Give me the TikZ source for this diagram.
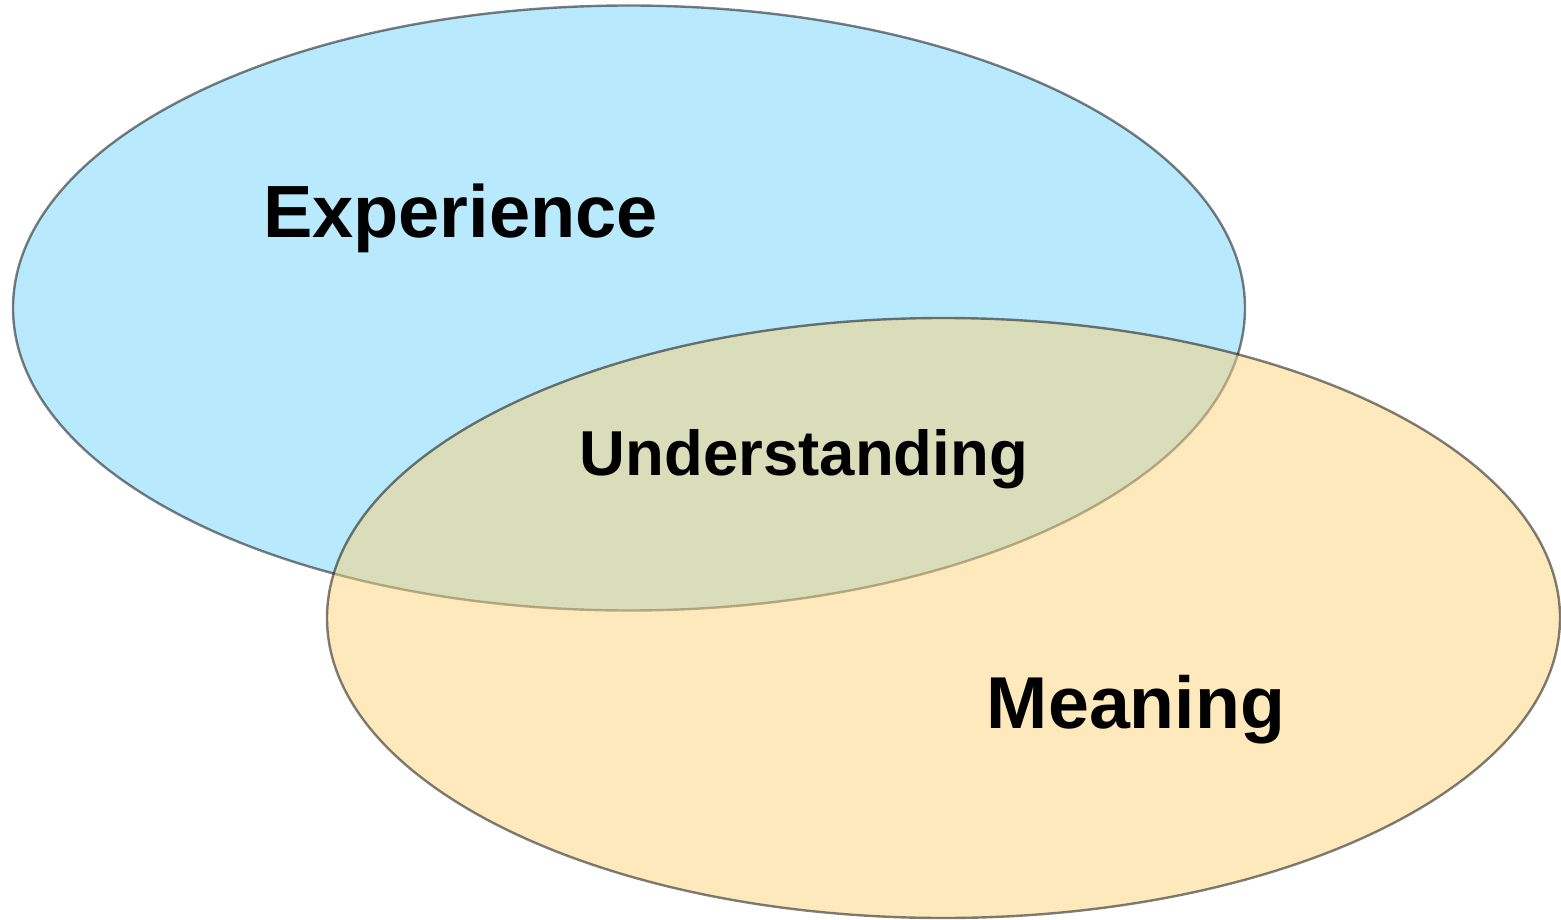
\documentclass[tikz,border=0pt]{standalone}
\usepackage{fontspec}
\setmainfont{Liberation Sans}
\definecolor{blueF}{RGB}{185,233,252}
\definecolor{yelF}{RGB}{251,211,121}
\begin{document}
\begin{tikzpicture}[x=1pt,y=-1pt,
  venn/.style={draw=black,draw opacity=0.5,line width=2.4pt},
  lbl/.style={inner sep=0pt,anchor=base,font=\bfseries}]
\useasboundingbox (0,0) rectangle (1561,920);
\path[venn,fill=blueF] (629,308) ellipse[x radius=616,y radius=302.5];
\path[venn,fill=yelF,fill opacity=0.5] (943.5,618) ellipse[x radius=616.5,y radius=300];
\node[lbl,font=\fontsize{74}{80}\selectfont\bfseries] (exp) at (460.5,238) {Experience};
\node[lbl,font=\fontsize{63.5}{70}\selectfont\bfseries] (und) at (804,475) {Understanding};
\node[lbl,font=\fontsize{73.5}{80}\selectfont\bfseries] (mea) at (1136,728) {Meaning};
\end{tikzpicture}
\end{document}
